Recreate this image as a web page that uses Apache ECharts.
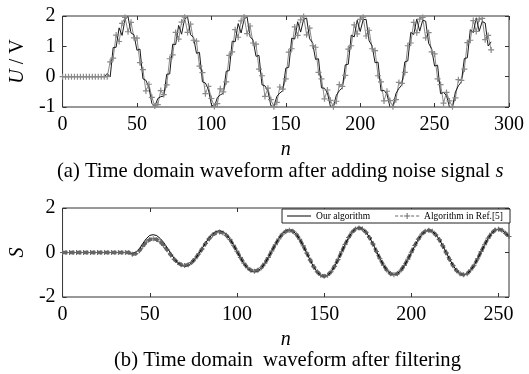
<!DOCTYPE html>
<html>
<head>
<meta charset="utf-8">
<script src="https://cdn.jsdelivr.net/npm/echarts@6/dist/echarts.min.js"></script>
<style>
html,body{margin:0;padding:0;background:#fff;}
#main{width:529px;height:374px;}
</style>
</head>
<body>
<div id="main"></div>
<script>
// sample step (n) for all series
var nStep = 2;

// (a) noisy signal, n = 0..288
var noisyLine = [
	0,0,0,0,0,0,0,0,0,0,0,0,0,0,0,
	0.10,-0.01,0.96,0.97,1.61,1.36,1.89,1.98,1.44,1.38,0.87,0.91,-0.07,-0.12,-0.35,-0.88,-0.98,-0.72,-0.66,-0.64,
	0.08,0.09,1.07,1.06,1.69,1.40,1.90,1.97,1.38,1.30,0.77,0.80,-0.17,-0.21,-0.42,-0.92,-1.00,-0.69,-0.60,-0.55,
	0.18,0.20,1.17,1.15,1.75,1.44,1.90,1.97,1.32,1.21,0.67,0.70,-0.27,-0.30,-0.48,-0.96,-0.99,-0.65,-0.54,-0.46,
	0.28,0.31,1.27,1.24,1.81,1.47,1.89,1.93,1.25,1.12,0.57,0.59,-0.37,-0.38,-0.54,-0.98,-0.97,-0.61,-0.46,-0.37,
	0.39,0.41,1.37,1.31,1.86,1.49,1.88,1.89,1.18,1.02,0.46,0.48,-0.47,-0.45,-0.58,-0.99,-0.98,-0.56,-0.39,-0.27,
	0.49,0.52,1.46,1.39,1.90,1.50,1.86,1.83,1.10,0.92,0.35,0.38,-0.56,-0.52,-0.62,-1.00,-0.99,-0.50,-0.30,-0.17,
	0.60,0.62,1.55,1.45,1.94,1.50,1.82,1.77,1.01,1.15
];
var noisyMarked = [
	0,0,0,0,0,0,0,0,0,0,0,0,0,0,0,
	0.00,0.49,0.61,1.37,1.16,1.76,1.95,1.48,1.79,1.28,1.27,0.46,0.23,-0.47,-0.25,-0.68,-0.97,-0.92,-0.46,-0.59,
	-0.27,0.59,0.72,1.46,1.24,1.80,1.96,1.46,1.73,1.20,1.17,0.35,0.13,-0.56,-0.32,-0.72,-0.98,-0.89,-0.40,-0.50,
	-0.17,0.70,0.82,1.55,1.30,1.84,1.97,1.42,1.67,1.11,1.07,0.25,0.03,-0.65,-0.38,-0.76,-0.99,-0.85,-0.34,-0.41,
	-0.07,0.81,0.92,1.64,1.36,1.87,1.98,1.38,1.60,1.02,0.97,0.14,-0.07,-0.73,-0.44,-0.78,-0.99,-0.81,-0.26,-0.32,
	0.04,0.91,1.02,1.71,1.41,1.89,1.96,1.34,1.53,0.92,0.86,0.03,-0.17,-0.80,-0.48,-0.79,-0.99,-0.76,-0.19,-0.22,
	0.14,1.02,1.11,1.79,1.45,1.90,1.95,1.28,1.45,0.82,0.75,-0.07,-0.26,-0.87,-0.52,-0.80,-0.99,-0.70,-0.10,-0.12,
	0.25,1.12,1.20,1.85,1.49,1.90,1.92,1.22,1.36,0.88
];

// (b) filtered output, n = 0..256
var ourAlgo = [
	0,0,0,0,0,0,0,0,0,0,0,0,0,0,0,0,0,0,0,0,
	-0.05,0.00,0.15,0.40,0.62,0.77,0.80,0.76,0.63,0.45,0.21,-0.03,-0.27,-0.45,-0.58,-0.62,
	-0.58,-0.47,-0.29,-0.07,0.18,0.43,0.65,0.83,0.94,0.98,
	0.93,0.80,0.60,0.34,0.05,-0.24,-0.50,-0.70,-0.83,-0.88,
	-0.83,-0.70,-0.49,-0.22,0.07,0.36,0.63,0.84,0.97,1.02,
	0.97,0.82,0.59,0.29,-0.03,-0.35,-0.65,-0.88,-1.03,-1.08,
	-1.03,-0.87,-0.63,-0.32,0.02,0.36,0.67,0.91,1.07,1.12,
	1.07,0.92,0.68,0.39,0.06,-0.27,-0.56,-0.80,-0.95,-1.00,
	-0.95,-0.81,-0.59,-0.31,0.00,0.31,0.59,0.81,0.95,1.00,
	0.95,0.81,0.59,0.31,0.00,-0.31,-0.59,-0.81,-0.95,-1.00,
	-0.95,-0.80,-0.58,-0.29,0.03,0.34,0.63,0.85,1.00,1.05,
	1.00,0.88,0.72
];
var refAlgo = [
	0,0,0,0,0,0,0,0,0,0,0,0,0,0,0,0,0,0,0,0,
	-0.08,-0.05,0.08,0.28,0.47,0.58,0.62,0.58,0.48,0.32,0.12,-0.10,-0.30,-0.45,-0.55,-0.58,
	-0.55,-0.45,-0.28,-0.07,0.16,0.40,0.62,0.79,0.89,0.92,
	0.88,0.77,0.58,0.33,0.06,-0.22,-0.48,-0.68,-0.80,-0.84,
	-0.80,-0.68,-0.48,-0.22,0.07,0.35,0.61,0.82,0.95,1.00,
	0.96,0.82,0.60,0.30,-0.02,-0.34,-0.64,-0.87,-1.02,-1.07,
	-1.02,-0.86,-0.62,-0.31,0.03,0.36,0.67,0.91,1.06,1.10,
	1.06,0.91,0.67,0.38,0.05,-0.28,-0.57,-0.80,-0.95,-1.00,
	-0.95,-0.80,-0.58,-0.30,0.01,0.32,0.60,0.82,0.96,1.00,
	0.95,0.80,0.58,0.30,-0.01,-0.32,-0.60,-0.82,-0.96,-1.00,
	-0.95,-0.79,-0.57,-0.28,0.04,0.35,0.64,0.86,1.01,1.05,
	1.00,0.87,0.72
];

var legendNames = ['Our algorithm', 'Algorithm in Ref.[5]'];

var serif = 'Liberation Serif';
var plusIcon = 'path://M4,0H6V10H4Z M0,4H10V6H0Z';
// legend glyphs, drawn in a 24x8 box
var solidIcon = 'path://M0,3.5H24V4.5H0Z';
var dashPlusIcon = 'path://M0,3.5H3V4.5H0Z M5,3.5H8V4.5H5Z M9,3.5H15V4.5H9Z M11.5,1H12.5V7H11.5Z M16,3.5H19V4.5H16Z M21,3.5H24V4.5H21Z';

function toPairs(arr){
	return arr.map(function(v, i){ return [i * nStep, v]; });
}

function xAxisCfg(grid, max, pos, showLabel){
	return {
		type:'value', gridIndex:grid, min:0, max:max, interval:50, position:pos,
		axisLine:{show:false, onZero:false},
		axisTick:{show:true, inside:true, length:4, lineStyle:{color:'#333'}},
		axisLabel:{show:showLabel, color:'#000', fontFamily:serif, fontSize:20, margin:8},
		splitLine:{show:false},
		name: showLabel ? 'n' : '', nameLocation:'middle', nameGap:33,
		nameTextStyle:{color:'#000', fontFamily:serif, fontSize:20, fontStyle:'italic'}
	};
}
function yAxisCfg(grid, min, max, step, pos, showLabel, name){
	return {
		type:'value', gridIndex:grid, min:min, max:max, interval:step, position:pos,
		axisLine:{show:false, onZero:false},
		axisTick:{show:true, inside:true, length:4, lineStyle:{color:'#333'}},
		axisLabel:{show:showLabel, color:'#000', fontFamily:serif, fontSize:20, margin:7},
		splitLine:{show:false},
		name: name, nameLocation:'middle', nameRotate:90, nameGap:30,
		nameTextStyle:{color:'#000', fontFamily:serif, fontSize:20,
			rich:{i:{fontFamily:serif, fontSize:20, fontStyle:'italic'}}}
	};
}

var chart = echarts.init(document.getElementById('main'));
chart.setOption({
	animation:false,
	backgroundColor:'#fff',
	title:[
		{text:'(a) Time domain waveform after adding noise signal {i|s}', left:52, top:156,
			textStyle:{color:'#000', fontFamily:serif, fontSize:20.6, fontWeight:'normal',
				rich:{i:{fontFamily:serif, fontSize:20.6, fontStyle:'italic'}}}},
		{text:'(b) Time domain  waveform after filtering', left:109, top:345,
			textStyle:{color:'#000', fontFamily:serif, fontSize:20.6, fontWeight:'normal'}}
	],
	legend:{
		data:[{name:legendNames[0], icon:solidIcon}, {name:legendNames[1], icon:dashPlusIcon}],
		right:19, top:209, orient:'horizontal',
		backgroundColor:'#fff', borderColor:'#222', borderWidth:1,
		padding:[2,7,2,5], itemGap:25, itemWidth:24, itemHeight:8,
		textStyle:{color:'#000', fontFamily:serif, fontSize:9.5}
	},
	grid:[
		{left:55, right:20, top:16, height:91, show:true, borderColor:'#333', borderWidth:1},
		{left:55, right:20, top:208, height:89, show:true, borderColor:'#333', borderWidth:1}
	],
	xAxis:[
		xAxisCfg(0, 300, 'bottom', true),
		xAxisCfg(0, 300, 'top', false),
		xAxisCfg(1, 256, 'bottom', true),
		xAxisCfg(1, 256, 'top', false)
	],
	yAxis:[
		yAxisCfg(0, -1, 2, 1, 'left', true, '{i|U} / V'),
		yAxisCfg(0, -1, 2, 1, 'right', false, ''),
		yAxisCfg(1, -2, 2, 2, 'left', true, '{i|S}'),
		yAxisCfg(1, -2, 2, 2, 'right', false, '')
	],
	series:[
		{
			type:'line', xAxisIndex:0, yAxisIndex:0, data:toPairs(noisyMarked),
			symbol:plusIcon, symbolSize:6, itemStyle:{color:'#8a8a8a'},
			lineStyle:{color:'#8a8a8a', width:1}
		},
		{
			type:'line', xAxisIndex:0, yAxisIndex:0, data:toPairs(noisyLine),
			symbol:'none', lineStyle:{color:'#1a1a1a', width:1}
		},
		{
			name:legendNames[1], type:'line', xAxisIndex:2, yAxisIndex:2, data:toPairs(refAlgo),
			symbol:plusIcon, symbolSize:5, itemStyle:{color:'#666'},
			lineStyle:{color:'#666', width:3.5, type:[5,2]}
		},
		{
			name:legendNames[0], type:'line', xAxisIndex:2, yAxisIndex:2, data:toPairs(ourAlgo),
			symbol:'none', itemStyle:{color:'#000'}, lineStyle:{color:'#000', width:1}
		}
	]
});
</script>
</body>
</html>
